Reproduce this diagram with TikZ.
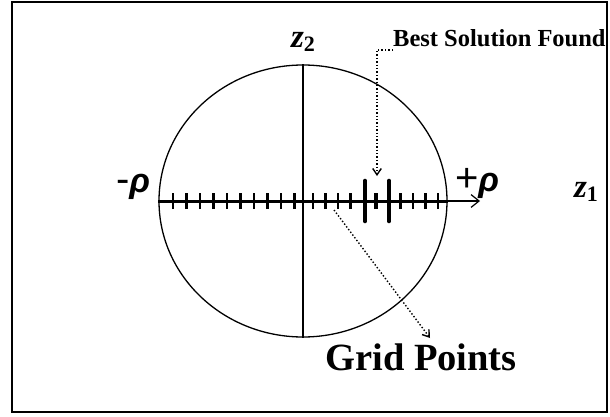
\documentclass[tikz,border=0pt]{standalone}
\usepackage{fontspec}
\setmainfont{Liberation Serif}
\newfontfamily\rhofont{Liberation Sans}
\usetikzlibrary{arrows.meta, shapes.geometric}
\newcommand{\zlab}[1]{\textbf{\textit{z}}\raisebox{-0.3ex}{\fontsize{22}{22}\selectfont\textbf{#1}}}
\newcommand{\rholab}[1]{{\fontsize{40}{40}\selectfont #1}{\bfseries\itshape ρ}}

\begin{document}
\begin{tikzpicture}[
        x=1pt, y=1pt,
        axislbl/.style={font=\fontsize{33}{33}\selectfont, inner sep=0pt},
        rholbl/.style={font=\fontsize{34}{34}\selectfont\rhofont, inner sep=0pt},
        tick/.style={line width=2.2pt},
        besttick/.style={line width=4.6pt, line cap=round},
        pointer/.style={dotted, line width=1.4pt, -{Straight Barb[length=2.2mm, width=3mm]}}
    ]
        \useasboundingbox (0,0) rectangle (610,416);
        \draw[line width=1.5pt] (12,4) rectangle (607,414);

        \node[draw, ellipse, line width=1.3pt, minimum width=288, minimum height=272, inner sep=0pt] (disc) at (303,215) {};
        \coordinate (zend) at (480,215);
        \draw[line width=1.2pt, -{Straight Barb[length=2.8mm, width=4.5mm]}] (disc.east) -- (zend);
        \draw[line width=1.4pt] (disc.north) -- (disc.south);
        \draw[line width=3pt] (disc.west) -- (disc.east);

        % grid points on the z1 axis
        \foreach \x in {173,186.5,200,213.5,227,240.5,254,267.5,281,294.5,313,325.5,338,350.5,375.5,400.5,413,425.5,438}
            {\draw[tick] (\x,207) -- (\x,223);}
        \draw[tick] (377,207) -- (377,223);
        \foreach \x in {365,389}
            {\draw[besttick] (\x,195) -- (\x,235);}
        \coordinate (best) at (377,240);

        \node[rholbl] (mrho) at (133,229) {\rholab{-}};
        \node[rholbl] (prho) at (477,233) {\rholab{+}};
        \node[axislbl] (z1) at (586,224) {\zlab{1}};
        \node[axislbl] (z2) at (303,374) {\zlab{2}};

        \node[font=\fontsize{24.5}{24.5}\selectfont\bfseries, anchor=base west, inner sep=0pt] (bsf) at (393,369) {Best Solution Found};
        \node[font=\fontsize{38.5}{38.5}\selectfont\bfseries, anchor=base, inner sep=0pt] (grid) at (421,46) {Grid Points};

        \draw[pointer] (bsf.west |- 0,366) -| (best);
        \coordinate (gridstart) at (334,206);
        \coordinate (gridend) at (430,78);
        \draw[pointer] (gridstart) -- (gridend);
    \end{tikzpicture}
\end{document}
